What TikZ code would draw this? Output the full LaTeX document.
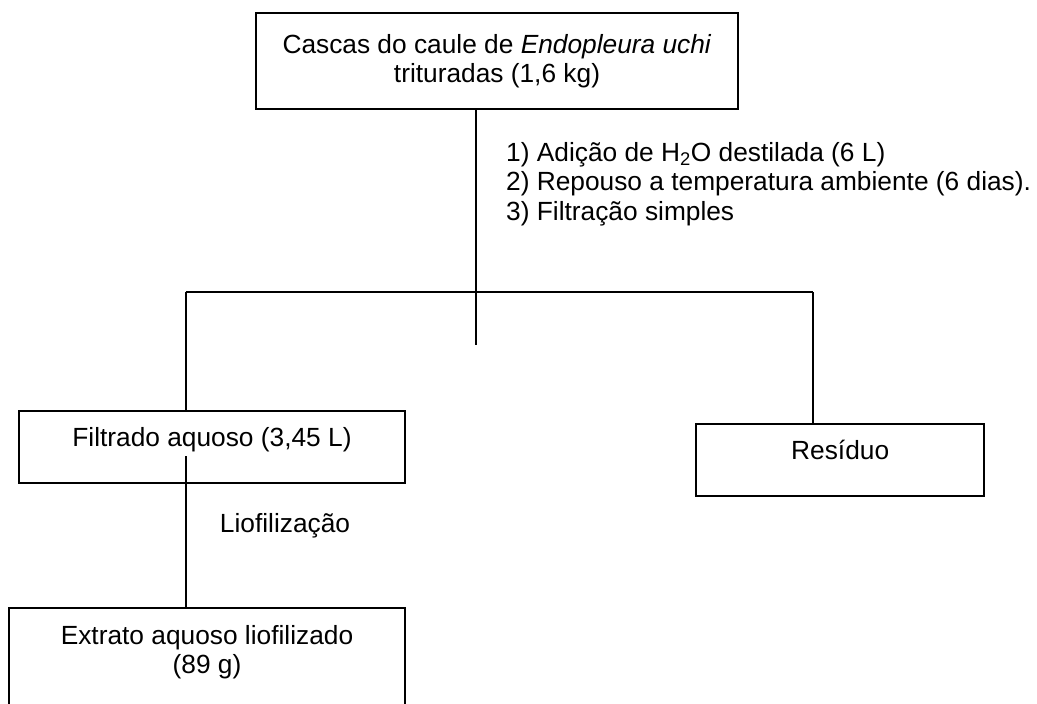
\documentclass[tikz,border=0pt]{standalone}
\usepackage{fontspec}
\setmainfont{Liberation Sans}
\usetikzlibrary{positioning}

\begin{document}
\begin{tikzpicture}[x=1pt, y=-1pt, font={\fontsize{26.3pt}{29pt}\selectfont}]

        % Setup the styles for the boxes and lines
        \tikzset{box style/.style={draw,
                                   line width=1.9pt,
                                   inner sep=0pt,
                                   minimum height=72pt,
                                   text height=19pt,
                                   text depth=20.2pt},
                 link style/.style={line width=1.9pt},
                 note style/.style={inner sep=0pt,
                                    text height=19pt,
                                    text depth=0pt}}

        \useasboundingbox (0,0) rectangle (1037,704);
        \clip (0,0) rectangle (1037,704);

        % Draw the boxes
        \node[box style, minimum width=482pt, minimum height=96pt,
              align=center, text height=48pt, text depth=6.2pt] at (497, 61.3) (casca)
              {Cascas do caule de \textit{Endopleura uchi}\\trituradas (1,6 kg)};
        \node[box style, minimum width=385.4pt] at (212, 446.7) (filtrado)
              {Filtrado aquoso (3,45 L)};
        \node[box style, minimum width=288.3pt] at (840.2, 460.3) (residuo)
              {Resíduo};
        \node[box style, minimum width=395.4pt, minimum height=104pt,
              align=center, text height=48pt, text depth=20.6pt] at (207, 659.7) (extrato)
              {Extrato aquoso liofilizado\\(89 g)};

        % Draw the notes
        \node[note style, anchor=north west, align=left, text height=78pt,
              font={\fontsize{26.3pt}{29.5pt}\selectfont}] at (506, 142.1) (passos)
              {1) Adição de H\textsubscript{2}O destilada (6 L)\\
               2) Repouso a temperatura ambiente (6 dias).\\
               3) Filtração simples};
        \node[note style] at (285, 523) (liofil) {Liofilização};

        % Junction points
        \coordinate (split) at (476, 292);
        \coordinate (midend) at (476, 345);
        \coordinate (jl) at (185.7, 292);
        \coordinate (jr) at (813.3, 292);
        \coordinate (lio) at (185.7, 456);

        % Connect the boxes
        \draw[link style] (casca.south -| split) -- (midend);
        \draw[link style] (jl) -- (jr);
        \draw[link style] (jl) -- (jl |- filtrado.north);
        \draw[link style] (jr) -- (jr |- residuo.north);
        \draw[link style] (lio) -- (lio |- extrato.north);
    \end{tikzpicture}
\end{document}
